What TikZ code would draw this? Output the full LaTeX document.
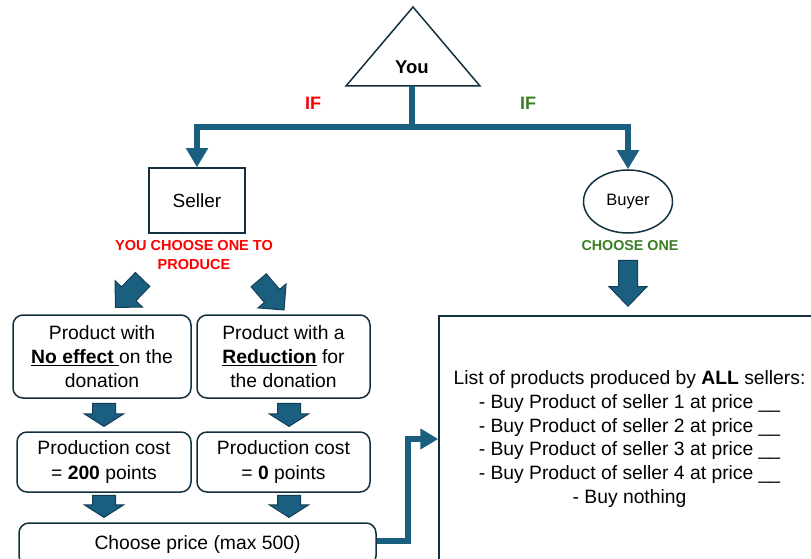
\documentclass[tikz,border=0pt]{standalone}
\usepackage{fontspec}
\setmainfont{Liberation Sans}
\usetikzlibrary{shapes.arrows,shapes.geometric,arrows.meta}
\definecolor{ablue}{HTML}{1A5F80}
\definecolor{aedge}{HTML}{123E55}
\definecolor{boxline}{HTML}{13303F}
\definecolor{myred}{HTML}{FF0000}
\definecolor{mygreen}{HTML}{3B7D23}
\begin{document}
\begin{tikzpicture}[x=1pt,y=-1pt,
  maintxt/.style={font=\fontsize{19.3}{24.3}\selectfont, align=center},
  rbox/.style={draw=boxline, line width=1.5pt, rounded corners=10pt, inner sep=0pt, maintxt},
  barrow/.style={single arrow, draw=aedge, fill=ablue, line width=1pt, inner xsep=0pt, single arrow head indent=0pt, anchor=tip},
  smallarrow/.style={barrow, inner ysep=11pt, minimum width=38pt, single arrow head extend=8pt, single arrow tip angle=115, rotate=-90},
  conn/.style={draw=ablue, line width=6pt, line join=miter},
  tipA/.style={-{Triangle[length=19pt,width=21pt]}},
]
\useasboundingbox (0,0) rectangle (811,559);

% top triangle
\draw[boxline, line width=1.5pt, line join=miter] (413,7) -- (480,86) -- (346,86) -- cycle;
\node[font=\bfseries\fontsize{18.5}{20}\selectfont] (you) at (412,67) {You};
\coordinate (youbase) at (412,86);
\coordinate (j) at (412,127);

% seller and buyer
\node[draw=boxline, line width=1.5pt, minimum width=96pt, minimum height=65pt, inner sep=0pt,
      font=\fontsize{19}{22}\selectfont] (seller) at (197,200.5) {Seller};
\node[ellipse, draw=boxline, line width=1.5pt, minimum width=89pt, minimum height=63pt, inner sep=0pt,
      font=\fontsize{16.5}{20}\selectfont] (buyer) at (628,201.5) {Buyer};

% branch connectors
\draw[conn] (youbase) -- (j);
\draw[conn, tipA] (j) -| (seller.north);
\draw[conn, tipA] (j) -| (buyer.north);

\node[text=myred, font=\bfseries\fontsize{18}{20}\selectfont] (ifl) at (313,103) {IF};
\node[text=mygreen, font=\bfseries\fontsize{18}{20}\selectfont] (ifr) at (528,103) {IF};

\node[text=myred, font=\bfseries\fontsize{14.5}{19}\selectfont, align=center] (ychoose) at (194,255.5) {YOU CHOOSE ONE TO\\PRODUCE};
\node[text=mygreen, font=\bfseries\fontsize{14.3}{18}\selectfont] (bchoose) at (630,246) {CHOOSE ONE};

% block arrows
\node[barrow, inner ysep=9pt, minimum height=46pt, minimum width=37pt, single arrow head extend=9.5pt, single arrow tip angle=88, rotate=-90] (barr) at (628,307) {};
\node[barrow, inner ysep=9.5pt, minimum height=39pt, minimum width=37pt, single arrow head extend=9pt, single arrow tip angle=90, rotate=226] (dl) at (115,308) {};
\node[barrow, inner ysep=9.5pt, minimum height=39pt, minimum width=36pt, single arrow head extend=8.5pt, single arrow tip angle=90, rotate=-49.5] (dr) at (284.5,310.5) {};

% product boxes
\node[rbox, minimum width=178pt, minimum height=83pt] (p1) at (102,356.5)
  {Product with\\\underline{\textbf{No effect }}on the\\donation};
\node[rbox, minimum width=173pt, minimum height=83pt] (p2) at (283.5,356.5)
  {Product with a\\\underline{\textbf{Reduction}} for\\the donation};

\node[smallarrow, minimum height=23pt] (s1) at (104,427) {};
\node[smallarrow, minimum height=23pt] (s2) at (289,427) {};

% cost boxes
\node[rbox, minimum width=174pt, minimum height=60pt] (c1) at (104,462)
  {Production cost\\= \textbf{200} points};
\node[rbox, minimum width=173pt, minimum height=60pt] (c2) at (283.5,462)
  {Production cost\\= \textbf{0} points};

\node[smallarrow, minimum height=22pt] (s3) at (104,518) {};
\node[smallarrow, minimum height=22pt] (s4) at (289,518) {};

% price box
\node[rbox, minimum width=357pt, minimum height=43pt] (price) at (197.5,544.5) {Choose price (max 500)};

% list box
\node[draw=boxline, line width=1.5pt, inner sep=0pt, minimum width=381pt, minimum height=246pt, maintxt,
      font=\fontsize{19.3}{23.8}\selectfont] (listbox) at (629.5,439)
  {List of products produced by \textbf{ALL} sellers:\\
   - Buy Product of seller 1 at price \_\_\\
   - Buy Product of seller 2 at price \_\_\\
   - Buy Product of seller 3 at price \_\_\\
   - Buy Product of seller 4 at price \_\_\\
   - Buy nothing};

\draw[conn, -{Triangle[length=18pt,width=20pt]}] ([yshift=4pt]price.east) -- ++(31,0) |- (listbox.west);
\end{tikzpicture}
\end{document}
